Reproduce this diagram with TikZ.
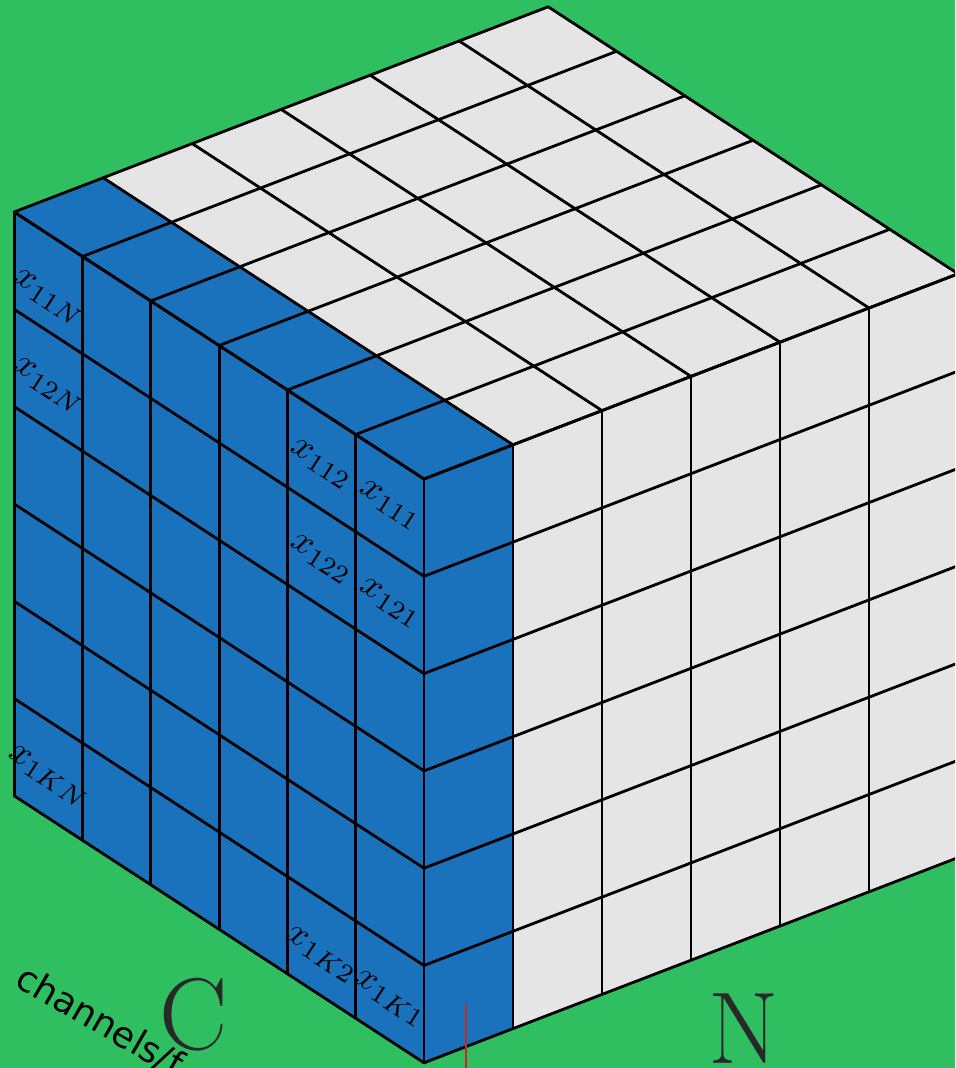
\documentclass[tikz,border=0pt]{standalone}
\usepackage{fontspec}
\newfontfamily\sansdv{DejaVu Sans}
\definecolor{bg}{RGB}{47,191,96}
\definecolor{cubeblue}{RGB}{26,113,188}
\definecolor{cubegray}{RGB}{229,229,229}
\definecolor{redline}{RGB}{200,40,30}
\definecolor{bigletter}{RGB}{40,40,40}
\begin{document}
\begin{tikzpicture}[x=0.5pt,y=-0.5pt,
  gridline/.style={line width=1.4pt, line join=round, line cap=round, black},
  lab/.style={rotate=-33, scale=1.85, inner sep=0pt},
  biglet/.style={inner sep=0pt, text=bigletter, font=\fontsize{51}{60}\selectfont}]
\useasboundingbox (0,0) rectangle (955,1068);
\fill[bg] (0,0) rectangle (955,1068);
\begin{scope}
\clip (0,0) rectangle (955,1068);
\begin{scope}[shift={(424,479)}, x={(44.5pt,17.1pt)}, y={(-34.15pt,22.25pt)}, z={(0pt,-48.65pt)}]
  % top face
  \fill[cubegray] (0,0,0) -- (6,0,0) -- (6,6,0) -- (0,6,0) -- cycle;
  \fill[cubeblue] (0,0,0) -- (1,0,0) -- (1,6,0) -- (0,6,0) -- cycle;
  % right face
  \fill[cubegray] (0,0,0) -- (6,0,0) -- (6,0,6) -- (0,0,6) -- cycle;
  \fill[cubeblue] (0,0,0) -- (1,0,0) -- (1,0,6) -- (0,0,6) -- cycle;
  % left face
  \fill[cubeblue] (0,0,0) -- (0,6,0) -- (0,6,6) -- (0,0,6) -- cycle;
  \foreach \t in {0,...,6}{
    \draw[gridline] (\t,0,0) -- (\t,6,0);
    \draw[gridline] (0,\t,0) -- (6,\t,0);
    \draw[gridline] (\t,0,0) -- (\t,0,6);
    \draw[gridline] (0,0,\t) -- (6,0,\t);
    \draw[gridline] (0,\t,0) -- (0,\t,6);
    \draw[gridline] (0,0,\t) -- (0,6,\t);
  }
\end{scope}
% cell labels
\node[lab] (l111) at (390,505) {$x_{111}$};
\node[lab] (l121) at (390,603) {$x_{121}$};
\node[lab] (l112) at (321,464) {$x_{112}$};
\node[lab] (l122) at (321,559) {$x_{122}$};
\node[lab] (l1K1) at (390,999) {$x_{1K1}$};
\node[lab] (l1K2) at (321,955) {$x_{1K2}$};
\node[lab] (l11N) at (48,298) {$x_{11N}$};
\node[lab] (l12N) at (48,386) {$x_{12N}$};
\node[lab] (l1KN) at (48,777) {$x_{1KN}$};
% axis letters
\node[biglet] (C) at (194,1015) {C};
\node[biglet] (N) at (744,1029) {N};
\node[anchor=base west, rotate=-30, inner sep=0pt, font=\sansdv\fontsize{18}{21}\selectfont] (chan) at (13,985) {channels/f};
% red mark
\coordinate (rtop) at (466,1004);
\coordinate (rbot) at (466,1070);
\draw[redline, line width=1pt] (rtop) -- (rbot);
\end{scope}
\end{tikzpicture}
\end{document}
